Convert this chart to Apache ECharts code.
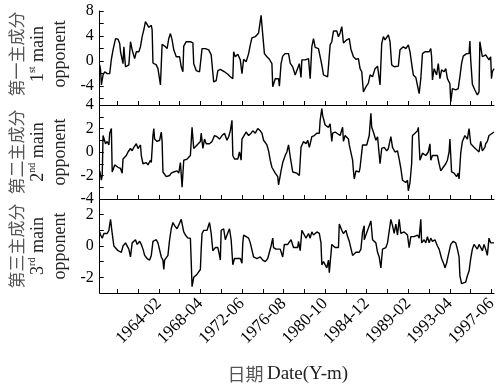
<!DOCTYPE html>
<html>
<head>
<meta charset="utf-8">
<script src="https://cdn.jsdelivr.net/npm/echarts@6/dist/echarts.min.js"></script>
<style>
  html, body { margin: 0; padding: 0; background: #fff; }
  #chart { width: 503px; height: 390px; }
</style>
</head>
<body>
<div id="chart"></div>
<script>
// 横轴用月序号：0 = 1958-01
const xMin = 2, xMax = 476;
const xTicks = ['1959-12', '1962-01', '1964-02', '1966-03', '1968-04', '1970-05', '1972-06',
  '1974-07', '1976-08', '1978-09', '1980-10', '1982-11', '1984-12', '1987-01', '1989-02',
  '1991-03', '1993-04', '1995-05', '1997-06'];
const xLabels = ['1964-02', '1968-04', '1972-06', '1976-08', '1980-10', '1984-12', '1989-02', '1993-04', '1997-06'];

// 第一主成分 [月序号, 得分]
const pc1 = [[2,-0.6],[3,-1.4],[4,-3.8],[6,-2.2],[8,-1.7],[11,-2.0],[14,-2.0],[16,0.3],[18,1.8],[21,3.6],[24,3.5],[26,2.8],[27,1.5],[30,-0.4],[31,2.3],[33,-0.9],[35,-1.2],[37,-0.6],[39,3.1],[41,1.8],[44,0.4],[46,1.5],[49,1.5],[51,2.3],[53,3.9],[55,5.0],[57,6.3],[59,6.0],[61,5.4],[64,5.7],[65,5.0],[66,-0.3],[70,-0.6],[72,-1.2],[75,-3.8],[77,2.7],[80,2.4],[83,2.0],[85,3.6],[87,4.4],[89,3.4],[91,1.8],[94,0.7],[98,0.7],[100,-0.9],[102,-1.7],[103,2.4],[106,3.1],[111,3.1],[114,2.9],[115,-0.4],[118,-1.5],[122,-1.7],[124,-2.0],[125,2.0],[129,2.0],[133,1.8],[136,1.0],[138,0.7],[139,-3.3],[142,-3.1],[144,-1.5],[147,-1.3],[152,-1.7],[156,-2.1],[159,-2.5],[162,-2.8],[163,1.5],[165,0.7],[168,1.1],[171,0.2],[173,-2.0],[175,0.3],[178,-0.1],[181,1.2],[183,2.6],[185,3.7],[189,3.9],[193,4.5],[195,4.4],[196,7.3],[198,4.2],[200,1.2],[203,0.7],[206,0.3],[209,-0.4],[210,-4.1],[213,-2.8],[217,-2.8],[218,-4.0],[220,-0.4],[222,0.8],[225,1.2],[229,1.2],[231,-0.3],[234,-0.9],[237,-2.2],
  [239,-2.4],[242,-0.4],[244,-2.6],[245,0.2],[249,0.2],[253,0.4],[255,-2.8],[257,2.3],[259,3.6],[261,2.2],[265,2.0],[267,1.8],[269,-0.6],[271,-2.2],[276,-2.5],[279,2.6],[281,3.1],[283,4.8],[287,4.8],[289,3.9],[291,4.5],[293,5.5],[295,2.9],[299,3.4],[302,3.6],[304,1.9],[307,0.7],[310,0.3],[313,0.4],[315,-1.2],[317,-1.7],[318,-3.3],[319,-4.9],[322,-4.1],[325,-3.5],[327,-2.2],[330,-2.5],[333,-1.2],[336,-0.8],[338,-0.6],[339,-3.8],[341,2.8],[343,3.9],[345,3.4],[349,4.2],[351,3.1],[353,-0.6],[356,-0.9],[361,-0.8],[363,1.8],[367,2.3],[370,2.0],[373,2.6],[375,1.5],[377,-0.4],[379,-2.2],[382,-2.6],[384,-2.9],[386,-5.2],[388,-2.8],[390,1.2],[393,1.5],[398,1.5],[400,2.0],[401,0.7],[402,-3.0],[404,-1.2],[407,-2.2],[409,-0.4],[411,-2.8],[413,-1.4],[416,-1.7],[418,-1.2],[420,-2.8],[423,-3.6],[424,-6.5],[426,-4.4],[430,-4.6],[433,-4.4],[435,-2.5],[437,-0.4],[439,0.8],[443,1.2],[446,1.2],[447,3.2],[448,0.2],[450,-3.7],[453,-4.6],[456,-5.4],[458,-4.9],[459,3.1],[462,0.7],[466,1.0],[470,0.2],[472,0.7],[473,-2.8],[474,-1.7],[476,-1.2]];

// 第二主成分
const pc2 = [[2,-1.6],[3,-1.7],[4,-2.4],[5,-2.0],[6,1.4],[7,1.4],[9,0.7],[11,0.9],[13,0.6],[14,1.6],[16,2.0],[17,-1.7],[20,-1.1],[24,-1.3],[27,-1.4],[29,-1.8],[30,-0.6],[34,-0.3],[36,0],[39,0.3],[41,0.1],[43,0.4],[46,0.7],[48,0.3],[51,0.6],[52,-0.3],[54,-1.0],[58,-0.9],[60,-1.1],[63,-0.7],[64,-0.9],[66,1.4],[67,2.0],[68,1.1],[71,0.9],[74,1.0],[76,1.7],[77,0.9],[78,-1.7],[82,-2.1],[86,-2.0],[88,-1.8],[91,-1.7],[95,-1.6],[97,-1.8],[99,-0.9],[101,-3.0],[103,-0.7],[107,-0.6],[111,-0.3],[112,-0.4],[113,2.1],[115,0.3],[117,0.4],[119,0.6],[123,0.9],[124,1.6],[126,0.3],[128,1.1],[130,0.7],[134,0.7],[137,0.9],[140,1.4],[143,1.3],[146,1.1],[149,1.4],[152,1.6],[155,1.0],[157,1.3],[159,1.8],[161,2.7],[162,-0.3],[164,-0.6],[168,-0.6],[170,0],[172,-0.7],[173,1.1],[175,1.1],[178,1.7],[181,1.4],[184,1.6],[186,1.8],[189,1.6],[192,2.0],[195,1.8],[197,1.6],[199,1.0],[201,0.9],[203,0.6],[205,0.1],[207,-0.7],[209,-1.3],[213,-1.8],[216,-2.1],[217,-2.8],[220,-1.6],[222,-0.9],[225,-0.3],[227,0],[229,0.6],[231,-0.4],[234,-1.7],[239,-1.8],
  [242,-2.0],[244,0.4],[247,0.9],[250,0.7],[252,1.0],[254,0.4],[257,1.3],[260,1.4],[263,1.6],[266,1.6],[267,2.7],[269,3.7],[270,3.1],[273,2.3],[275,2.4],[277,2.1],[279,2.4],[281,0.9],[282,1.6],[285,1.7],[287,1.6],[291,1.4],[294,2.1],[295,0.9],[297,1.4],[301,1.1],[302,0.6],[306,-0.7],[307,-1.6],[308,-2.3],[310,-1.6],[314,-1.7],[315,-1.3],[318,0.6],[320,0.7],[323,0.6],[326,1.4],[328,3.3],[329,2.1],[331,1.7],[334,1.0],[336,1.3],[339,-1.0],[341,0.3],[344,0.4],[347,0.1],[349,0.3],[352,1.3],[354,0.4],[357,0],[360,0.1],[362,-0.6],[364,-1.4],[366,-2.4],[370,-2.6],[372,-2.4],[373,-3.3],[375,-2.6],[377,-1.0],[378,1.4],[381,1.6],[384,1.8],[385,2.1],[387,-0.7],[390,-0.1],[394,-0.3],[397,0],[399,0.7],[400,-0.7],[402,-0.3],[404,-0.4],[408,-0.3],[410,-1.0],[412,-1.6],[415,-1.3],[418,-1.0],[420,-0.7],[422,0],[423,1.1],[425,-1.7],[428,-1.8],[431,-2.1],[433,-1.8],[434,-2.3],[436,-0.1],[438,0.9],[441,1.4],[444,1.1],[446,2.0],[448,0.7],[452,0.4],[454,0.3],[458,0],[460,0.9],[462,0.1],[465,0.4],[466,0.7],[468,0.9],[470,1.4],[472,1.3],[474,1.6],[476,1.7]];

// 第三主成分
const pc3 = [[2,0.9],[3,0.7],[5,0.5],[7,0.8],[11,0.8],[13,1.0],[15,1.7],[17,0.8],[19,0],[21,-0.1],[24,-0.3],[26,-0.2],[28,-0.4],[30,0],[33,0.2],[35,0.3],[37,-0.2],[39,-0.7],[41,0.2],[43,0.2],[45,0.4],[47,0.1],[50,0.3],[52,0.1],[54,-0.2],[56,-0.6],[59,-0.8],[62,-0.9],[64,-0.6],[66,0.3],[70,0.4],[72,0.2],[76,-0.7],[78,-0.9],[79,-1.5],[80,-0.9],[84,-0.6],[86,0.4],[88,1.1],[90,1.5],[92,1.3],[95,1.1],[100,1.7],[103,0.9],[105,0.7],[108,0.5],[111,0.5],[112,-1.0],[113,-2.6],[115,-2.0],[119,-1.8],[123,-1.5],[124,-0.2],[125,0.8],[127,1.0],[131,1.0],[134,1.5],[136,0.8],[138,-0.3],[141,-0.1],[144,-0.1],[146,-0.6],[147,-0.9],[148,1.0],[151,1.1],[153,0.4],[155,0.7],[158,1.1],[160,0.4],[162,-1.2],[164,-0.8],[168,-0.8],[171,-0.8],[173,-1.1],[174,0.2],[175,0.7],[178,0.6],[181,0.5],[183,0.2],[185,0.1],[187,-0.7],[191,-0.8],[195,-0.7],[198,-0.9],[201,-1.0],[204,-0.8],[206,-0.4],[208,0],[210,0.5],[211,-0.1],[214,-0.2],[219,-0.2],[222,-0.7],[224,0.1],[228,0.1],[230,0],[232,0.4],[235,-0.1],[240,-0.1],
  [241,0.3],[243,-0.3],[245,1.0],[248,0.7],[250,0.5],[253,0.8],[255,0.5],[257,0.9],[259,0.7],[263,0.9],[266,0.8],[268,0.2],[269,-1.2],[271,-1.0],[275,-1.4],[277,-0.9],[278,-1.7],[279,-1.1],[281,0.1],[285,-0.1],[287,0],[289,-0.1],[290,1.4],[293,1.0],[295,0.8],[298,1.0],[300,0.6],[302,0.3],[306,-0.6],[310,-0.4],[314,-0.4],[316,-0.2],[318,0.9],[320,1.3],[320,0.4],[322,0.5],[326,1.3],[328,1.6],[330,0.4],[332,0.5],[334,0.2],[336,-0.4],[338,-0.7],[340,-1.4],[342,-0.2],[346,-0.1],[348,0.2],[350,0.2],[352,1.7],[354,1.3],[356,0.8],[358,1.4],[360,0.7],[362,1.7],[364,0.8],[368,0.9],[370,1.0],[372,0.7],[374,-0.1],[376,0.6],[380,0.6],[384,0.7],[386,0.5],[388,1.7],[389,0.2],[392,0.4],[394,0.2],[396,0.6],[398,0.2],[400,0.5],[402,0.3],[405,0.4],[408,0],[410,-0.2],[413,-0.8],[416,-1.2],[417,-1.4],[419,-1.1],[421,-0.6],[424,0.1],[427,0.3],[430,0.2],[432,-0.2],[434,-0.7],[435,-1.9],[437,-2.4],[439,-2.5],[442,-2.3],[444,-1.9],[446,-1.6],[448,-0.8],[450,-0.2],[452,0.1],[454,0],[456,-0.2],[458,0.1],[460,0],[462,-0.3],[464,0.1],[466,-0.2],[468,-0.6],[470,0.5],[472,0.2],[474,0.1],[476,0.2]];

const yRanges = [[-7, 8], [-4, 4], [-3, 3]];
const yTickValues = [[-6, -4, -2, 0, 2, 4, 6, 8], [-3, -2, -1, 0, 1, 2, 3, 4], [-2, -1, 0, 1, 2]];
const yLabelValues = [[-4, 0, 4, 8], [-4, -2, 0, 2, 4], [-2, 0, 2]];
const yNames = [
  '{cn|第一主成分}\n{en|1}{sup|st}{en| main}\n{en|opponent}',
  '{cn|第二主成分}\n{en|2}{sup|nd}{en| main}\n{en|opponent}',
  '{cn|第三主成分}\n{en|3}{sup|rd}{en| main}\n{en|opponent}'
];

const serif = "'Liberation Serif', 'Times New Roman', serif";
const cjk = "'Noto Sans CJK SC', sans-serif";

const toMonth = s => (parseInt(s.slice(0, 4)) - 1958) * 12 + parseInt(s.slice(5, 7)) - 1;
const fmtMonth = t => {
  const y = 1958 + Math.floor(t / 12);
  const m = t % 12 + 1;
  return y + '-' + (m < 10 ? '0' + m : m);
};

const tops = [11, 105, 199];
const grid = tops.map(top => ({ left: 97, width: 397, top: top, height: 94 }));

const xAxis = tops.map((_, i) => ({
  type: 'value',
  gridIndex: i,
  min: xMin,
  max: xMax,
  axisLine: { show: true, onZero: false, lineStyle: { color: '#000', width: 1 } },
  axisTick: { show: true, inside: true, length: 4, customValues: xTicks.map(toMonth), lineStyle: { color: '#000' } },
  axisLabel: {
    show: i === 2,
    customValues: xLabels.map(toMonth),
    formatter: fmtMonth,
    rotate: 45,
    margin: 8,
    color: '#000',
    fontSize: 17,
    fontFamily: serif
  },
  splitLine: { show: false },
  name: i === 2 ? '{cn|日期} {en|Date(Y-m)}' : '',
  nameLocation: 'middle',
  nameGap: 72,
  nameTextStyle: {
    padding: [0, 18, 0, 0],
    rich: {
      cn: { fontFamily: cjk, fontSize: 18, color: '#555' },
      en: { fontFamily: serif, fontSize: 19, color: '#222' }
    }
  }
}));

const yAxis = tops.map((_, i) => ({
  type: 'value',
  gridIndex: i,
  min: yRanges[i][0],
  max: yRanges[i][1],
  axisLine: { show: true, onZero: false, lineStyle: { color: '#000', width: 1 } },
  axisTick: { show: true, inside: true, length: 4, customValues: yTickValues[i], lineStyle: { color: '#000' } },
  axisLabel: { customValues: yLabelValues[i], margin: 6, color: '#000', fontSize: 16, fontFamily: serif },
  splitLine: { show: false },
  name: yNames[i],
  nameLocation: 'middle',
  nameRotate: 90,
  nameGap: 24,
  nameTextStyle: {
    align: 'center',
    padding: i === 0 ? [0, 0, 0, 8] : 0,
    rich: {
      cn: { fontFamily: cjk, fontSize: 17, color: '#555', lineHeight: 22 },
      en: { fontFamily: serif, fontSize: 18, color: '#222', lineHeight: 22 },
      sup: { fontFamily: serif, fontSize: 10, color: '#222', lineHeight: 22, verticalAlign: 'top' }
    }
  }
}));

const series = [pc1, pc2, pc3].map((d, i) => ({
  type: 'line',
  xAxisIndex: i,
  yAxisIndex: i,
  data: d,
  symbol: 'none',
  lineStyle: { color: '#000', width: 1.4 },
  animation: false
}));

const chart = echarts.init(document.getElementById('chart'));
chart.setOption({
  animation: false,
  backgroundColor: '#fff',
  grid: grid,
  xAxis: xAxis,
  yAxis: yAxis,
  series: series
});
</script>
</body>
</html>
